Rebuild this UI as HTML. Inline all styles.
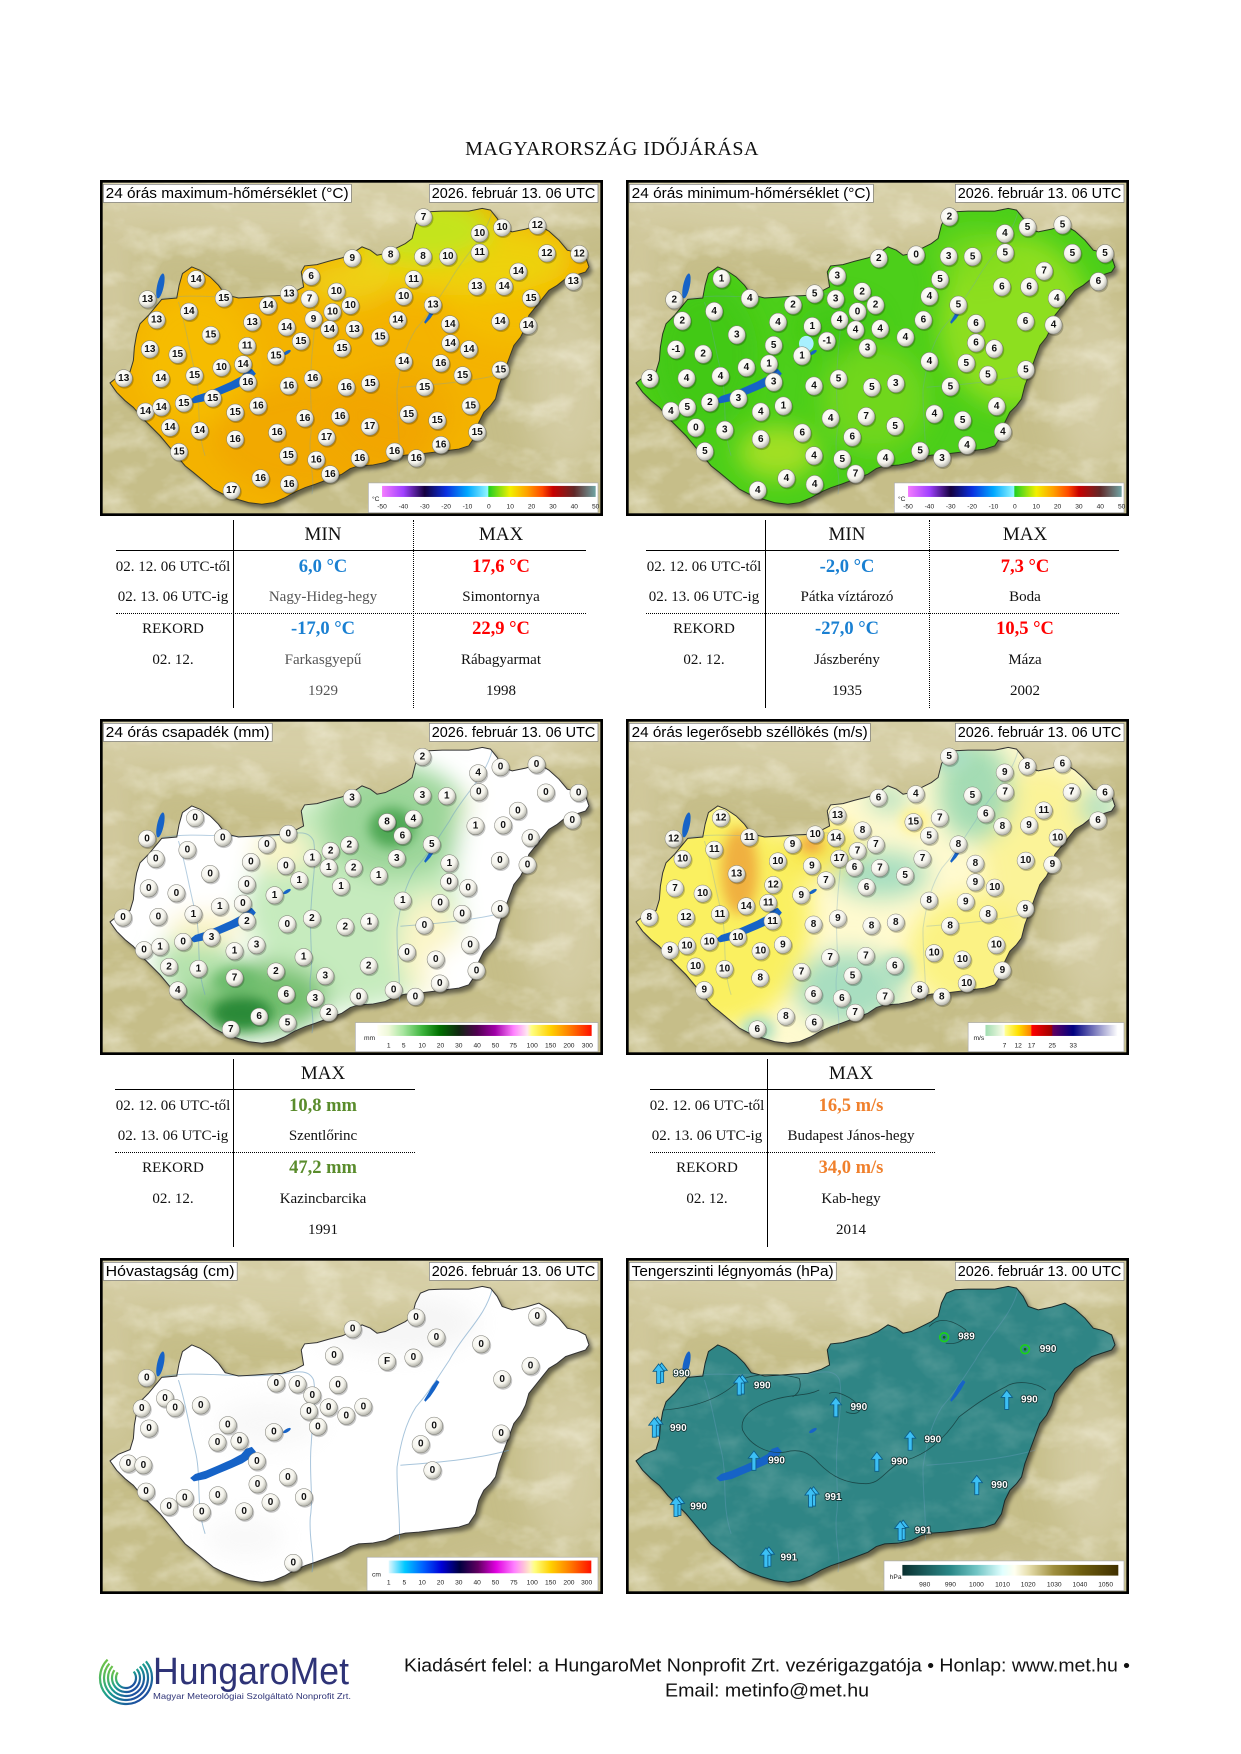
<!DOCTYPE html>
<html><head><meta charset="utf-8">
<style>
html,body{margin:0;padding:0;background:#fff}
#pg{position:relative;width:1241px;height:1754px;overflow:hidden;background:#fff}
.map{position:absolute}
svg text{font-family:"Liberation Sans",sans-serif}
.s text{font-size:30px;font-weight:bold;text-anchor:middle;dominant-baseline:central;fill:#111}
.p text{font-size:30px;font-weight:bold;fill:#fff;stroke:#123030;stroke-width:5px;paint-order:stroke;dominant-baseline:central}
.lb{font-size:44px;fill:#000}
.lg{font-size:20px;fill:#222}
.lgt text{font-size:20px;fill:#222;text-anchor:middle}
.c{position:absolute;width:260px;margin-left:-130px;text-align:center;font-family:"Liberation Serif",serif;line-height:1;white-space:nowrap;color:#111}
.h{font-size:19px}
.l{font-size:15px}
.g{color:#555}
.v{font-size:18.5px;font-weight:bold}
.bl{color:#1a80d2}.rd{color:#ff0000}.gr{color:#5a8c2c}.or{color:#f0802c}
.vl{position:absolute;width:0;border-left:1.5px solid #000}
.vd{position:absolute;width:0;border-left:1px dotted #000}
.hl{position:absolute;height:0;border-top:1.5px solid #000}
.hd{position:absolute;height:0;border-top:1px dotted #000}
</style></head><body><div id="pg">

<svg width="0" height="0" style="position:absolute;left:0;top:0">
<defs>
<radialGradient id="sg" cx=".4" cy=".35" r=".7"><stop offset="0" stop-color="#fff"/><stop offset=".6" stop-color="#f5f4ec"/><stop offset="1" stop-color="#a8a89f"/></radialGradient>
<g id="c"><circle cx="3" cy="4" r="27" fill="#000" opacity=".22"/><circle r="26" fill="url(#sg)" stroke="#7d7d76" stroke-width="1.5"/></g>
<path id="ar" d="M0,-30 L17,-8 L6,-8 L6,28 L-6,28 L-6,-8 L-17,-8Z" fill="#3cc0f5" stroke="#0b5d8a" stroke-width="2.5"/>
<g id="ar2"><use href="#ar" x="9" y="-3"/><use href="#ar"/></g>
<path id="hu" d="M45,632 L70,612 L105,598 L115,565 L118,525 L125,485 L135,455 L160,430 L185,400 L200,382 L245,378 L252,340 L262,305 L290,285 L315,295 L345,315 L370,340 L390,368 L430,378 L480,375 L520,372 L560,370 L600,358 L625,345 L618,300 L628,282 L665,278 L700,268 L740,258 L770,245 L800,225 L825,235 L845,250 L870,245 L900,230 L930,215 L950,200 L960,160 L975,130 L1000,120 L1040,118 L1080,118 L1120,118 L1160,110 L1185,115 L1205,140 L1220,170 L1250,180 L1290,172 L1330,160 L1360,178 L1390,205 L1415,235 L1445,242 L1470,255 L1480,285 L1470,300 L1440,310 L1410,320 L1385,340 L1360,355 L1340,380 L1320,405 L1300,430 L1290,465 L1275,495 L1255,520 L1240,560 L1225,600 L1210,640 L1200,680 L1185,700 L1165,720 L1150,750 L1140,790 L1120,820 L1090,830 L1050,835 L1010,840 L970,845 L930,848 L900,855 L870,870 L830,878 L790,880 L765,888 L740,905 L700,920 L660,935 L630,945 L600,958 L570,975 L535,990 L500,995 L460,990 L420,978 L385,965 L355,950 L325,925 L295,900 L270,880 L245,850 L220,820 L195,790 L165,760 L140,735 L115,705 L90,685 L65,660 Z"/>
<clipPath id="huc"><use href="#hu"/></clipPath>
<filter id="bl" x="-50%" y="-50%" width="200%" height="200%"><feGaussianBlur stdDeviation="35"/></filter>
<filter id="bls" x="-50%" y="-50%" width="200%" height="200%"><feGaussianBlur stdDeviation="18"/></filter>
<filter id="bl2" x="-50%" y="-50%" width="200%" height="200%"><feGaussianBlur stdDeviation="50"/></filter>
<filter id="sb" x="-10%" y="-10%" width="120%" height="120%"><feGaussianBlur stdDeviation="6"/></filter>
<filter id="tex" filterUnits="userSpaceOnUse" x="0" y="0" width="1600" height="1100"><feTurbulence type="fractalNoise" baseFrequency=".008 .012" numOctaves="4" seed="5"/><feColorMatrix type="matrix" values="0 0 0 0 1  0 0 0 0 .98  0 0 0 0 .88  1.6 0 0 0 -.7"/></filter>
<use id="hush" href="#hu" transform="translate(10 12)" fill="#000" opacity=".5" filter="url(#sb)"/>
<g id="terr" filter="url(#bl2)">
<ellipse cx="700" cy="90" rx="750" ry="130" fill="#ddd6b2" opacity=".7"/>
<ellipse cx="1420" cy="640" rx="130" ry="260" fill="#dad3ae" opacity=".7"/>
<ellipse cx="1380" cy="60" rx="200" ry="90" fill="#ddd6b2" opacity=".6"/>
<ellipse cx="50" cy="380" rx="80" ry="260" fill="#d8d1ab" opacity=".6"/>
<ellipse cx="1300" cy="980" rx="250" ry="60" fill="#d4cda6" opacity=".5"/>
</g>
<g id="lakes" fill="#1663c7">
<ellipse cx="196" cy="342" rx="10" ry="38" transform="rotate(12 196 342)"/>
<path d="M285,683 L296,693 L332,686 L372,669 L410,653 L442,639 L468,622 L482,604 L470,590 L452,596 L438,612 L408,628 L370,645 L332,661 L300,671Z"/>
<ellipse cx="575" cy="541" rx="13" ry="5" transform="rotate(-30 575 541)"/>
<path d="M990,455 L1004,440 L1018,420 L1032,396 L1024,390 L1010,408 L998,430 L986,450Z"/>
</g>
<g id="riv" fill="none" stroke="#6f9fc4" stroke-width="3">
<path d="M200,380 C300,360 450,388 560,372 C612,362 642,360 655,390 C665,450 650,520 648,580 C640,660 655,740 645,800 C640,870 660,920 650,965"/>
<path d="M1190,118 C1170,200 1105,250 1062,330 C1025,385 1002,425 962,470 C930,520 915,580 905,650 C903,720 915,800 912,870"/>
<path d="M1240,600 C1150,625 1050,635 915,645"/>
<path d="M250,390 C270,450 280,520 300,600 C320,680 300,760 330,850"/>
</g>
<linearGradient id="gT"><stop offset="0" stop-color="#f47cff"/><stop offset=".1" stop-color="#a040ff"/><stop offset=".2" stop-color="#140040"/><stop offset=".3" stop-color="#0a30e0"/><stop offset=".4" stop-color="#00a8ff"/><stop offset=".495" stop-color="#90f6ff"/><stop offset=".5" stop-color="#22d022"/><stop offset=".6" stop-color="#f2f000"/><stop offset=".68" stop-color="#ffa000"/><stop offset=".75" stop-color="#ff4a00"/><stop offset=".8" stop-color="#c80000"/><stop offset=".9" stop-color="#602828"/><stop offset="1" stop-color="#70a4a4"/></linearGradient>
<linearGradient id="gP"><stop offset="0" stop-color="#fffff2"/><stop offset=".053" stop-color="#eef8d8"/><stop offset=".12" stop-color="#a8e6a0"/><stop offset=".21" stop-color="#3cb43c"/><stop offset=".29" stop-color="#007000"/><stop offset=".38" stop-color="#102810"/><stop offset=".465" stop-color="#500050"/><stop offset=".55" stop-color="#a000a8"/><stop offset=".635" stop-color="#ff80ff"/><stop offset=".7" stop-color="#ffe8f0"/><stop offset=".72" stop-color="#ffff80"/><stop offset=".81" stop-color="#ffd000"/><stop offset=".895" stop-color="#ff8000"/><stop offset="1" stop-color="#ff1000"/></linearGradient>
<linearGradient id="gS"><stop offset="0" stop-color="#e0f8ff"/><stop offset=".08" stop-color="#00c8ff"/><stop offset=".17" stop-color="#0060ff"/><stop offset=".26" stop-color="#0000d8"/><stop offset=".35" stop-color="#000040"/><stop offset=".44" stop-color="#600060"/><stop offset=".53" stop-color="#e000e0"/><stop offset=".62" stop-color="#ff80ff"/><stop offset=".7" stop-color="#fff0c0"/><stop offset=".72" stop-color="#ffff80"/><stop offset=".8" stop-color="#ffd000"/><stop offset=".89" stop-color="#ff8000"/><stop offset="1" stop-color="#ff1000"/></linearGradient>
<linearGradient id="gW"><stop offset="0" stop-color="#a0dcb0"/><stop offset=".14" stop-color="#fbfde8"/><stop offset=".15" stop-color="#ffff90"/><stop offset=".247" stop-color="#ffe000"/><stop offset=".345" stop-color="#ff8000"/><stop offset=".35" stop-color="#ff0000"/><stop offset=".5" stop-color="#a00000"/><stop offset=".51" stop-color="#600060"/><stop offset=".664" stop-color="#000080"/><stop offset="1" stop-color="#ffffff"/></linearGradient>
<linearGradient id="gPr"><stop offset="0" stop-color="#0a3030"/><stop offset=".104" stop-color="#1a5a5a"/><stop offset=".223" stop-color="#2a8888"/><stop offset=".343" stop-color="#70c4c4"/><stop offset=".463" stop-color="#e0ffff"/><stop offset=".52" stop-color="#fffff0"/><stop offset=".582" stop-color="#e8e0b0"/><stop offset=".7" stop-color="#a09040"/><stop offset=".82" stop-color="#706010"/><stop offset="1" stop-color="#403000"/></linearGradient>
<g id="legT">
<rect x="819" y="931" width="688" height="89" fill="#fff" stroke="#aaa" stroke-width="2"/>
<rect x="860" y="940" width="640" height="33" fill="url(#gT)"/>
<text x="830" y="985" class="lg">°C</text>
<g class="lgt"><text x="860" y="1008">-50</text><text x="924" y="1008">-40</text><text x="988" y="1008">-30</text><text x="1052" y="1008">-20</text><text x="1116" y="1008">-10</text><text x="1180" y="1008">0</text><text x="1244" y="1008">10</text><text x="1308" y="1008">20</text><text x="1372" y="1008">30</text><text x="1436" y="1008">40</text><text x="1500" y="1008">50</text></g>
</g>
</defs>
</svg>

<div style="position:absolute;left:0;width:1224px;top:139px;text-align:center;font:20px/1 'Liberation Serif',serif;letter-spacing:.5px;color:#111">MAGYARORSZÁG IDŐJÁRÁSA</div>

<!-- MAP 1 -->
<svg class="map" style="left:100px;top:180px" width="503" height="336" viewBox="15 25 1507 1005" preserveAspectRatio="none">
<rect x="15" y="25" width="1507" height="1005" fill="#c6be89"/>
<use href="#terr"/>
<rect x="15" y="25" width="1507" height="1005" filter="url(#tex)" opacity=".6"/>
<use href="#hush"/>
<use href="#hu" fill="#f4b300"/>
<g clip-path="url(#huc)"><g filter="url(#bl)">
<ellipse cx="300" cy="560" rx="180" ry="200" fill="#f7c200" opacity=".6"/>
<ellipse cx="680" cy="800" rx="330" ry="170" fill="#f0a200" opacity=".6"/>
<ellipse cx="900" cy="720" rx="180" ry="140" fill="#f0a400" opacity=".5"/>
<ellipse cx="1250" cy="400" rx="200" ry="120" fill="#f5c400" opacity=".6"/>
<ellipse cx="1100" cy="260" rx="330" ry="110" fill="#ecd810" opacity=".8"/>
<ellipse cx="760" cy="330" rx="130" ry="70" fill="#eed41a" opacity=".8"/>
<ellipse cx="990" cy="170" rx="200" ry="100" fill="#c4e41c"/>
</g></g>
<use href="#riv" opacity=".3"/>
<use href="#hu" fill="none" stroke="#3a3a2a" stroke-width="3"/>
<use href="#lakes"/>
<svg x="15" y="25" width="1507" height="1005" viewBox="250 240 1272 1008" preserveAspectRatio="none" class="s">
<g transform="translate(1068 352)scale(.843 1)"><use href="#c"/><text>7</text></g>
<g transform="translate(1210 400)scale(.843 1)"><use href="#c"/><text>10</text></g>
<g transform="translate(1267 383)scale(.843 1)"><use href="#c"/><text>10</text></g>
<g transform="translate(1356 377)scale(.843 1)"><use href="#c"/><text>12</text></g>
<g transform="translate(888 475)scale(.843 1)"><use href="#c"/><text>9</text></g>
<g transform="translate(985 465)scale(.843 1)"><use href="#c"/><text>8</text></g>
<g transform="translate(1067 470)scale(.843 1)"><use href="#c"/><text>8</text></g>
<g transform="translate(1130 470)scale(.843 1)"><use href="#c"/><text>10</text></g>
<g transform="translate(1210 458)scale(.843 1)"><use href="#c"/><text>11</text></g>
<g transform="translate(1380 460)scale(.843 1)"><use href="#c"/><text>12</text></g>
<g transform="translate(1462 462)scale(.843 1)"><use href="#c"/><text>12</text></g>
<g transform="translate(1308 515)scale(.843 1)"><use href="#c"/><text>14</text></g>
<g transform="translate(1447 545)scale(.843 1)"><use href="#c"/><text>13</text></g>
<g transform="translate(493 538)scale(.843 1)"><use href="#c"/><text>14</text></g>
<g transform="translate(784 530)scale(.843 1)"><use href="#c"/><text>6</text></g>
<g transform="translate(1043 538)scale(.843 1)"><use href="#c"/><text>11</text></g>
<g transform="translate(1203 560)scale(.843 1)"><use href="#c"/><text>13</text></g>
<g transform="translate(1272 560)scale(.843 1)"><use href="#c"/><text>14</text></g>
<g transform="translate(370 598)scale(.843 1)"><use href="#c"/><text>13</text></g>
<g transform="translate(563 595)scale(.843 1)"><use href="#c"/><text>15</text></g>
<g transform="translate(728 582)scale(.843 1)"><use href="#c"/><text>13</text></g>
<g transform="translate(780 597)scale(.843 1)"><use href="#c"/><text>7</text></g>
<g transform="translate(848 575)scale(.843 1)"><use href="#c"/><text>10</text></g>
<g transform="translate(1018 590)scale(.843 1)"><use href="#c"/><text>10</text></g>
<g transform="translate(1092 615)scale(.843 1)"><use href="#c"/><text>13</text></g>
<g transform="translate(1340 595)scale(.843 1)"><use href="#c"/><text>15</text></g>
<g transform="translate(475 635)scale(.843 1)"><use href="#c"/><text>14</text></g>
<g transform="translate(675 617)scale(.843 1)"><use href="#c"/><text>14</text></g>
<g transform="translate(838 636)scale(.843 1)"><use href="#c"/><text>10</text></g>
<g transform="translate(883 617)scale(.843 1)"><use href="#c"/><text>10</text></g>
<g transform="translate(393 660)scale(.843 1)"><use href="#c"/><text>13</text></g>
<g transform="translate(635 667)scale(.843 1)"><use href="#c"/><text>13</text></g>
<g transform="translate(722 682)scale(.843 1)"><use href="#c"/><text>14</text></g>
<g transform="translate(790 658)scale(.843 1)"><use href="#c"/><text>9</text></g>
<g transform="translate(830 688)scale(.843 1)"><use href="#c"/><text>14</text></g>
<g transform="translate(893 688)scale(.843 1)"><use href="#c"/><text>13</text></g>
<g transform="translate(1003 660)scale(.843 1)"><use href="#c"/><text>14</text></g>
<g transform="translate(1135 673)scale(.843 1)"><use href="#c"/><text>14</text></g>
<g transform="translate(1262 665)scale(.843 1)"><use href="#c"/><text>14</text></g>
<g transform="translate(1333 677)scale(.843 1)"><use href="#c"/><text>14</text></g>
<g transform="translate(530 705)scale(.843 1)"><use href="#c"/><text>15</text></g>
<g transform="translate(758 724)scale(.843 1)"><use href="#c"/><text>15</text></g>
<g transform="translate(958 711)scale(.843 1)"><use href="#c"/><text>15</text></g>
<g transform="translate(376 748)scale(.843 1)"><use href="#c"/><text>13</text></g>
<g transform="translate(446 764)scale(.843 1)"><use href="#c"/><text>15</text></g>
<g transform="translate(622 738)scale(.843 1)"><use href="#c"/><text>11</text></g>
<g transform="translate(695 768)scale(.843 1)"><use href="#c"/><text>15</text></g>
<g transform="translate(862 745)scale(.843 1)"><use href="#c"/><text>15</text></g>
<g transform="translate(1136 730)scale(.843 1)"><use href="#c"/><text>14</text></g>
<g transform="translate(1183 748)scale(.843 1)"><use href="#c"/><text>14</text></g>
<g transform="translate(310 835)scale(.843 1)"><use href="#c"/><text>13</text></g>
<g transform="translate(404 836)scale(.843 1)"><use href="#c"/><text>14</text></g>
<g transform="translate(489 827)scale(.843 1)"><use href="#c"/><text>15</text></g>
<g transform="translate(557 803)scale(.843 1)"><use href="#c"/><text>10</text></g>
<g transform="translate(612 793)scale(.843 1)"><use href="#c"/><text>14</text></g>
<g transform="translate(624 847)scale(.843 1)"><use href="#c"/><text>16</text></g>
<g transform="translate(727 858)scale(.843 1)"><use href="#c"/><text>16</text></g>
<g transform="translate(788 836)scale(.843 1)"><use href="#c"/><text>16</text></g>
<g transform="translate(873 862)scale(.843 1)"><use href="#c"/><text>16</text></g>
<g transform="translate(933 851)scale(.843 1)"><use href="#c"/><text>15</text></g>
<g transform="translate(1018 785)scale(.843 1)"><use href="#c"/><text>14</text></g>
<g transform="translate(1112 790)scale(.843 1)"><use href="#c"/><text>16</text></g>
<g transform="translate(1167 826)scale(.843 1)"><use href="#c"/><text>15</text></g>
<g transform="translate(1263 810)scale(.843 1)"><use href="#c"/><text>15</text></g>
<g transform="translate(1071 862)scale(.843 1)"><use href="#c"/><text>15</text></g>
<g transform="translate(365 935)scale(.843 1)"><use href="#c"/><text>14</text></g>
<g transform="translate(405 922)scale(.843 1)"><use href="#c"/><text>14</text></g>
<g transform="translate(462 910)scale(.843 1)"><use href="#c"/><text>15</text></g>
<g transform="translate(535 895)scale(.843 1)"><use href="#c"/><text>15</text></g>
<g transform="translate(592 938)scale(.843 1)"><use href="#c"/><text>15</text></g>
<g transform="translate(650 918)scale(.843 1)"><use href="#c"/><text>16</text></g>
<g transform="translate(768 955)scale(.843 1)"><use href="#c"/><text>16</text></g>
<g transform="translate(857 950)scale(.843 1)"><use href="#c"/><text>16</text></g>
<g transform="translate(932 980)scale(.843 1)"><use href="#c"/><text>17</text></g>
<g transform="translate(1030 943)scale(.843 1)"><use href="#c"/><text>15</text></g>
<g transform="translate(1103 962)scale(.843 1)"><use href="#c"/><text>15</text></g>
<g transform="translate(1187 918)scale(.843 1)"><use href="#c"/><text>15</text></g>
<g transform="translate(427 983)scale(.843 1)"><use href="#c"/><text>14</text></g>
<g transform="translate(502 992)scale(.843 1)"><use href="#c"/><text>14</text></g>
<g transform="translate(592 1018)scale(.843 1)"><use href="#c"/><text>16</text></g>
<g transform="translate(698 998)scale(.843 1)"><use href="#c"/><text>16</text></g>
<g transform="translate(823 1012)scale(.843 1)"><use href="#c"/><text>17</text></g>
<g transform="translate(1204 997)scale(.843 1)"><use href="#c"/><text>15</text></g>
<g transform="translate(450 1056)scale(.843 1)"><use href="#c"/><text>15</text></g>
<g transform="translate(726 1067)scale(.843 1)"><use href="#c"/><text>15</text></g>
<g transform="translate(797 1080)scale(.843 1)"><use href="#c"/><text>16</text></g>
<g transform="translate(907 1075)scale(.843 1)"><use href="#c"/><text>16</text></g>
<g transform="translate(995 1055)scale(.843 1)"><use href="#c"/><text>16</text></g>
<g transform="translate(1050 1075)scale(.843 1)"><use href="#c"/><text>16</text></g>
<g transform="translate(1112 1035)scale(.843 1)"><use href="#c"/><text>16</text></g>
<g transform="translate(656 1135)scale(.843 1)"><use href="#c"/><text>16</text></g>
<g transform="translate(728 1153)scale(.843 1)"><use href="#c"/><text>16</text></g>
<g transform="translate(832 1123)scale(.843 1)"><use href="#c"/><text>16</text></g>
<g transform="translate(583 1172)scale(.843 1)"><use href="#c"/><text>17</text></g>
</svg>
<rect x="25" y="38" width="743" height="54" fill="#fff" stroke="#777" stroke-width="2"/>
<text class="lb" x="32" y="79" textLength="728" lengthAdjust="spacingAndGlyphs">24 órás maximum-hőmérséklet (°C)</text>
<rect x="1002" y="38" width="505" height="54" fill="#fff" stroke="#777" stroke-width="2"/>
<text class="lb" x="1009" y="79" textLength="490" lengthAdjust="spacingAndGlyphs">2026. február 13. 06 UTC</text>
<use href="#legT"/>
<rect x="15" y="25" width="1507" height="1005" fill="none" stroke="#000" stroke-width="16"/>
</svg>

<!-- MAP 2 -->
<svg class="map" style="left:626px;top:180px" width="503" height="336" viewBox="15 25 1507 1005" preserveAspectRatio="none">
<rect x="15" y="25" width="1507" height="1005" fill="#c6be89"/>
<use href="#terr"/>
<rect x="15" y="25" width="1507" height="1005" filter="url(#tex)" opacity=".6"/>
<use href="#hush"/>
<use href="#hu" fill="#4ccf1a"/>
<g clip-path="url(#huc)"><g filter="url(#bl)">
<ellipse cx="250" cy="550" rx="160" ry="220" fill="#3cc414" opacity=".6"/>
<ellipse cx="650" cy="470" rx="120" ry="80" fill="#3ac410" opacity=".6"/>
<ellipse cx="1180" cy="450" rx="230" ry="260" fill="#9ee21e" opacity=".8"/>
<ellipse cx="1060" cy="250" rx="120" ry="80" fill="#80dc1e" opacity=".6"/>
<ellipse cx="760" cy="680" rx="160" ry="160" fill="#88dc20" opacity=".6"/>
<ellipse cx="470" cy="840" rx="120" ry="80" fill="#b8e428" opacity=".8"/>
</g></g>
<use href="#riv" opacity=".3"/>
<use href="#hu" fill="none" stroke="#2a3a20" stroke-width="3"/>
<use href="#lakes"/>
<svg x="15" y="25" width="1507" height="1005" viewBox="18 28 1512 959" preserveAspectRatio="none" class="s">
<circle cx="560" cy="495" r="22" fill="#a8f0ff"/>
<g transform="translate(990 133)"><use href="#c"/><text>2</text></g>
<g transform="translate(1157 181)"><use href="#c"/><text>4</text></g>
<g transform="translate(1225 163)"><use href="#c"/><text>5</text></g>
<g transform="translate(1330 156)"><use href="#c"/><text>5</text></g>
<g transform="translate(778 252)"><use href="#c"/><text>2</text></g>
<g transform="translate(890 242)"><use href="#c"/><text>0</text></g>
<g transform="translate(988 246)"><use href="#c"/><text>3</text></g>
<g transform="translate(1060 247)"><use href="#c"/><text>5</text></g>
<g transform="translate(1158 236)"><use href="#c"/><text>5</text></g>
<g transform="translate(1360 237)"><use href="#c"/><text>5</text></g>
<g transform="translate(1458 238)"><use href="#c"/><text>5</text></g>
<g transform="translate(305 310)"><use href="#c"/><text>1</text></g>
<g transform="translate(653 302)"><use href="#c"/><text>3</text></g>
<g transform="translate(962 312)"><use href="#c"/><text>5</text></g>
<g transform="translate(1275 288)"><use href="#c"/><text>7</text></g>
<g transform="translate(1438 318)"><use href="#c"/><text>6</text></g>
<g transform="translate(163 370)"><use href="#c"/><text>2</text></g>
<g transform="translate(390 366)"><use href="#c"/><text>4</text></g>
<g transform="translate(520 385)"><use href="#c"/><text>2</text></g>
<g transform="translate(585 353)"><use href="#c"/><text>5</text></g>
<g transform="translate(648 368)"><use href="#c"/><text>3</text></g>
<g transform="translate(728 347)"><use href="#c"/><text>2</text></g>
<g transform="translate(768 385)"><use href="#c"/><text>2</text></g>
<g transform="translate(930 360)"><use href="#c"/><text>4</text></g>
<g transform="translate(1148 333)"><use href="#c"/><text>6</text></g>
<g transform="translate(1230 333)"><use href="#c"/><text>6</text></g>
<g transform="translate(1017 385)"><use href="#c"/><text>5</text></g>
<g transform="translate(1313 366)"><use href="#c"/><text>4</text></g>
<g transform="translate(283 403)"><use href="#c"/><text>4</text></g>
<g transform="translate(714 404)"><use href="#c"/><text>0</text></g>
<g transform="translate(187 430)"><use href="#c"/><text>2</text></g>
<g transform="translate(475 434)"><use href="#c"/><text>4</text></g>
<g transform="translate(660 428)"><use href="#c"/><text>4</text></g>
<g transform="translate(578 446)"><use href="#c"/><text>1</text></g>
<g transform="translate(708 456)"><use href="#c"/><text>4</text></g>
<g transform="translate(782 453)"><use href="#c"/><text>4</text></g>
<g transform="translate(912 428)"><use href="#c"/><text>6</text></g>
<g transform="translate(1070 438)"><use href="#c"/><text>6</text></g>
<g transform="translate(1219 432)"><use href="#c"/><text>6</text></g>
<g transform="translate(1303 442)"><use href="#c"/><text>4</text></g>
<g transform="translate(351 470)"><use href="#c"/><text>3</text></g>
<g transform="translate(462 500)"><use href="#c"/><text>5</text></g>
<g transform="translate(622 488)"><use href="#c"/><text>-1</text></g>
<g transform="translate(858 477)"><use href="#c"/><text>4</text></g>
<g transform="translate(1070 493)"><use href="#c"/><text>6</text></g>
<g transform="translate(1125 510)"><use href="#c"/><text>6</text></g>
<g transform="translate(168 512)"><use href="#c"/><text>-1</text></g>
<g transform="translate(250 525)"><use href="#c"/><text>2</text></g>
<g transform="translate(547 530)"><use href="#c"/><text>1</text></g>
<g transform="translate(744 508)"><use href="#c"/><text>3</text></g>
<g transform="translate(380 563)"><use href="#c"/><text>4</text></g>
<g transform="translate(448 553)"><use href="#c"/><text>1</text></g>
<g transform="translate(930 546)"><use href="#c"/><text>4</text></g>
<g transform="translate(1041 551)"><use href="#c"/><text>5</text></g>
<g transform="translate(1220 570)"><use href="#c"/><text>5</text></g>
<g transform="translate(1106 585)"><use href="#c"/><text>5</text></g>
<g transform="translate(90 595)"><use href="#c"/><text>3</text></g>
<g transform="translate(200 594)"><use href="#c"/><text>4</text></g>
<g transform="translate(302 588)"><use href="#c"/><text>4</text></g>
<g transform="translate(462 605)"><use href="#c"/><text>3</text></g>
<g transform="translate(583 616)"><use href="#c"/><text>4</text></g>
<g transform="translate(657 596)"><use href="#c"/><text>5</text></g>
<g transform="translate(757 620)"><use href="#c"/><text>5</text></g>
<g transform="translate(829 609)"><use href="#c"/><text>3</text></g>
<g transform="translate(993 618)"><use href="#c"/><text>5</text></g>
<g transform="translate(153 688)"><use href="#c"/><text>4</text></g>
<g transform="translate(202 677)"><use href="#c"/><text>5</text></g>
<g transform="translate(270 663)"><use href="#c"/><text>2</text></g>
<g transform="translate(356 652)"><use href="#c"/><text>3</text></g>
<g transform="translate(423 690)"><use href="#c"/><text>4</text></g>
<g transform="translate(491 673)"><use href="#c"/><text>1</text></g>
<g transform="translate(633 708)"><use href="#c"/><text>4</text></g>
<g transform="translate(740 703)"><use href="#c"/><text>7</text></g>
<g transform="translate(827 731)"><use href="#c"/><text>5</text></g>
<g transform="translate(945 696)"><use href="#c"/><text>4</text></g>
<g transform="translate(1030 714)"><use href="#c"/><text>5</text></g>
<g transform="translate(1132 674)"><use href="#c"/><text>4</text></g>
<g transform="translate(228 735)"><use href="#c"/><text>0</text></g>
<g transform="translate(315 742)"><use href="#c"/><text>3</text></g>
<g transform="translate(423 768)"><use href="#c"/><text>6</text></g>
<g transform="translate(548 750)"><use href="#c"/><text>6</text></g>
<g transform="translate(698 762)"><use href="#c"/><text>6</text></g>
<g transform="translate(1151 747)"><use href="#c"/><text>4</text></g>
<g transform="translate(255 803)"><use href="#c"/><text>5</text></g>
<g transform="translate(583 815)"><use href="#c"/><text>4</text></g>
<g transform="translate(668 825)"><use href="#c"/><text>5</text></g>
<g transform="translate(798 822)"><use href="#c"/><text>4</text></g>
<g transform="translate(902 802)"><use href="#c"/><text>5</text></g>
<g transform="translate(968 822)"><use href="#c"/><text>3</text></g>
<g transform="translate(1043 785)"><use href="#c"/><text>4</text></g>
<g transform="translate(500 880)"><use href="#c"/><text>4</text></g>
<g transform="translate(585 897)"><use href="#c"/><text>4</text></g>
<g transform="translate(708 867)"><use href="#c"/><text>7</text></g>
<g transform="translate(414 914)"><use href="#c"/><text>4</text></g>
</svg>
<rect x="25" y="38" width="731" height="54" fill="#fff" stroke="#777" stroke-width="2"/>
<text class="lb" x="32" y="79" textLength="716" lengthAdjust="spacingAndGlyphs">24 órás minimum-hőmérséklet (°C)</text>
<rect x="1002" y="38" width="505" height="54" fill="#fff" stroke="#777" stroke-width="2"/>
<text class="lb" x="1009" y="79" textLength="490" lengthAdjust="spacingAndGlyphs">2026. február 13. 06 UTC</text>
<use href="#legT"/>
<rect x="15" y="25" width="1507" height="1005" fill="none" stroke="#000" stroke-width="16"/>
</svg>

<!-- TABLE 1 -->
<div class="vl" style="left:233px;top:520px;height:188px"></div>
<div class="vd" style="left:413px;top:520px;height:188px"></div>
<div class="hl" style="left:116px;top:550px;width:470px"></div>
<div class="hd" style="left:116px;top:613px;width:470px"></div>
<div class="c h" style="left:323px;top:525px">MIN</div>
<div class="c h" style="left:501px;top:525px">MAX</div>
<div class="c l" style="left:173px;top:560px">02. 12. 06 UTC-től</div>
<div class="c v bl" style="left:323px;top:558px">6,0 °C</div>
<div class="c v rd" style="left:501px;top:558px">17,6 °C</div>
<div class="c l" style="left:173px;top:590px">02. 13. 06 UTC-ig</div>
<div class="c l g" style="left:323px;top:590px">Nagy-Hideg-hegy</div>
<div class="c l" style="left:501px;top:590px">Simontornya</div>
<div class="c l" style="left:173px;top:622px">REKORD</div>
<div class="c v bl" style="left:323px;top:620px">-17,0 °C</div>
<div class="c v rd" style="left:501px;top:620px">22,9 °C</div>
<div class="c l" style="left:173px;top:653px">02. 12.</div>
<div class="c l g" style="left:323px;top:653px">Farkasgyepű</div>
<div class="c l" style="left:501px;top:653px">Rábagyarmat</div>
<div class="c l g" style="left:323px;top:684px">1929</div>
<div class="c l" style="left:501px;top:684px">1998</div>

<!-- TABLE 2 -->
<div class="vl" style="left:765px;top:520px;height:188px"></div>
<div class="vd" style="left:929px;top:520px;height:188px"></div>
<div class="hl" style="left:646px;top:550px;width:473px"></div>
<div class="hd" style="left:646px;top:613px;width:473px"></div>
<div class="c h" style="left:847px;top:525px">MIN</div>
<div class="c h" style="left:1025px;top:525px">MAX</div>
<div class="c l" style="left:704px;top:560px">02. 12. 06 UTC-től</div>
<div class="c v bl" style="left:847px;top:558px">-2,0 °C</div>
<div class="c v rd" style="left:1025px;top:558px">7,3 °C</div>
<div class="c l" style="left:704px;top:590px">02. 13. 06 UTC-ig</div>
<div class="c l" style="left:847px;top:590px">Pátka víztározó</div>
<div class="c l" style="left:1025px;top:590px">Boda</div>
<div class="c l" style="left:704px;top:622px">REKORD</div>
<div class="c v bl" style="left:847px;top:620px">-27,0 °C</div>
<div class="c v rd" style="left:1025px;top:620px">10,5 °C</div>
<div class="c l" style="left:704px;top:653px">02. 12.</div>
<div class="c l" style="left:847px;top:653px">Jászberény</div>
<div class="c l" style="left:1025px;top:653px">Máza</div>
<div class="c l" style="left:847px;top:684px">1935</div>
<div class="c l" style="left:1025px;top:684px">2002</div>

<!-- MAP 3 -->
<svg class="map" style="left:100px;top:719px" width="503" height="336" viewBox="15 25 1507 1005" preserveAspectRatio="none">
<rect x="15" y="25" width="1507" height="1005" fill="#c6be89"/>
<use href="#terr"/>
<rect x="15" y="25" width="1507" height="1005" filter="url(#tex)" opacity=".6"/>
<use href="#hush"/>
<use href="#hu" fill="#ffffff"/>
<g clip-path="url(#huc)"><g filter="url(#bl)">
<ellipse cx="780" cy="560" rx="330" ry="330" fill="#c6ebbe"/>
<ellipse cx="900" cy="330" rx="220" ry="170" fill="#9cd69a"/>
<ellipse cx="470" cy="860" rx="230" ry="110" fill="#74c070"/>
<ellipse cx="300" cy="760" rx="120" ry="80" fill="#b4e2ac"/>
<ellipse cx="560" cy="420" rx="90" ry="60" fill="#fbf5c8"/>
<ellipse cx="330" cy="650" rx="110" ry="50" fill="#faf3c4"/>
<ellipse cx="1000" cy="700" rx="90" ry="150" fill="#fbf5c8"/>
<ellipse cx="1150" cy="360" rx="60" ry="120" fill="#fbf5c8"/>
<ellipse cx="290" cy="470" rx="190" ry="140" fill="#fff"/>
<ellipse cx="1260" cy="480" rx="180" ry="300" fill="#fff"/>
<ellipse cx="1100" cy="780" rx="100" ry="80" fill="#fff"/>
</g>
<g filter="url(#bls)">
<ellipse cx="890" cy="350" rx="70" ry="60" fill="#4fa854"/>
<ellipse cx="440" cy="905" rx="90" ry="50" fill="#2a8a38"/>
<ellipse cx="420" cy="810" rx="70" ry="40" fill="#6cbc6c"/>
</g></g>
<use href="#riv" opacity=".5"/>
<use href="#hu" fill="none" stroke="#333" stroke-width="3"/>
<use href="#lakes"/>
<svg x="15" y="25" width="1507" height="1005" viewBox="15 20 1507 1010" preserveAspectRatio="none" class="s">
<g transform="translate(981 134)"><use href="#c"/><text>2</text></g>
<g transform="translate(1148 183)"><use href="#c"/><text>4</text></g>
<g transform="translate(1215 165)"><use href="#c"/><text>0</text></g>
<g transform="translate(1323 157)"><use href="#c"/><text>0</text></g>
<g transform="translate(770 257)"><use href="#c"/><text>3</text></g>
<g transform="translate(981 250)"><use href="#c"/><text>3</text></g>
<g transform="translate(1054 252)"><use href="#c"/><text>1</text></g>
<g transform="translate(1150 240)"><use href="#c"/><text>0</text></g>
<g transform="translate(1351 241)"><use href="#c"/><text>0</text></g>
<g transform="translate(1449 242)"><use href="#c"/><text>0</text></g>
<g transform="translate(300 318)"><use href="#c"/><text>0</text></g>
<g transform="translate(875 330)"><use href="#c"/><text>8</text></g>
<g transform="translate(954 320)"><use href="#c"/><text>4</text></g>
<g transform="translate(1267 296)"><use href="#c"/><text>0</text></g>
<g transform="translate(1430 325)"><use href="#c"/><text>0</text></g>
<g transform="translate(156 380)"><use href="#c"/><text>0</text></g>
<g transform="translate(383 377)"><use href="#c"/><text>0</text></g>
<g transform="translate(579 365)"><use href="#c"/><text>0</text></g>
<g transform="translate(921 371)"><use href="#c"/><text>6</text></g>
<g transform="translate(1140 342)"><use href="#c"/><text>1</text></g>
<g transform="translate(1223 340)"><use href="#c"/><text>0</text></g>
<g transform="translate(1305 378)"><use href="#c"/><text>0</text></g>
<g transform="translate(277 414)"><use href="#c"/><text>0</text></g>
<g transform="translate(515 398)"><use href="#c"/><text>0</text></g>
<g transform="translate(706 417)"><use href="#c"/><text>2</text></g>
<g transform="translate(762 399)"><use href="#c"/><text>2</text></g>
<g transform="translate(1009 397)"><use href="#c"/><text>5</text></g>
<g transform="translate(182 441)"><use href="#c"/><text>0</text></g>
<g transform="translate(467 450)"><use href="#c"/><text>0</text></g>
<g transform="translate(572 462)"><use href="#c"/><text>0</text></g>
<g transform="translate(651 438)"><use href="#c"/><text>1</text></g>
<g transform="translate(700 467)"><use href="#c"/><text>1</text></g>
<g transform="translate(775 468)"><use href="#c"/><text>2</text></g>
<g transform="translate(850 491)"><use href="#c"/><text>1</text></g>
<g transform="translate(904 439)"><use href="#c"/><text>3</text></g>
<g transform="translate(1062 454)"><use href="#c"/><text>1</text></g>
<g transform="translate(1213 446)"><use href="#c"/><text>0</text></g>
<g transform="translate(1296 459)"><use href="#c"/><text>0</text></g>
<g transform="translate(345 486)"><use href="#c"/><text>0</text></g>
<g transform="translate(161 529)"><use href="#c"/><text>0</text></g>
<g transform="translate(244 544)"><use href="#c"/><text>0</text></g>
<g transform="translate(455 518)"><use href="#c"/><text>0</text></g>
<g transform="translate(612 505)"><use href="#c"/><text>1</text></g>
<g transform="translate(538 550)"><use href="#c"/><text>1</text></g>
<g transform="translate(737 524)"><use href="#c"/><text>1</text></g>
<g transform="translate(1061 510)"><use href="#c"/><text>0</text></g>
<g transform="translate(1118 528)"><use href="#c"/><text>0</text></g>
<g transform="translate(84 617)"><use href="#c"/><text>0</text></g>
<g transform="translate(190 615)"><use href="#c"/><text>0</text></g>
<g transform="translate(295 607)"><use href="#c"/><text>1</text></g>
<g transform="translate(374 584)"><use href="#c"/><text>1</text></g>
<g transform="translate(443 575)"><use href="#c"/><text>0</text></g>
<g transform="translate(455 628)"><use href="#c"/><text>2</text></g>
<g transform="translate(576 637)"><use href="#c"/><text>0</text></g>
<g transform="translate(650 620)"><use href="#c"/><text>2</text></g>
<g transform="translate(750 645)"><use href="#c"/><text>2</text></g>
<g transform="translate(822 630)"><use href="#c"/><text>1</text></g>
<g transform="translate(922 566)"><use href="#c"/><text>1</text></g>
<g transform="translate(1034 573)"><use href="#c"/><text>0</text></g>
<g transform="translate(1100 606)"><use href="#c"/><text>0</text></g>
<g transform="translate(1214 592)"><use href="#c"/><text>0</text></g>
<g transform="translate(987 641)"><use href="#c"/><text>0</text></g>
<g transform="translate(147 715)"><use href="#c"/><text>0</text></g>
<g transform="translate(195 705)"><use href="#c"/><text>1</text></g>
<g transform="translate(264 690)"><use href="#c"/><text>0</text></g>
<g transform="translate(349 677)"><use href="#c"/><text>3</text></g>
<g transform="translate(418 718)"><use href="#c"/><text>1</text></g>
<g transform="translate(484 700)"><use href="#c"/><text>3</text></g>
<g transform="translate(625 736)"><use href="#c"/><text>1</text></g>
<g transform="translate(935 722)"><use href="#c"/><text>0</text></g>
<g transform="translate(1124 700)"><use href="#c"/><text>0</text></g>
<g transform="translate(222 765)"><use href="#c"/><text>2</text></g>
<g transform="translate(310 771)"><use href="#c"/><text>1</text></g>
<g transform="translate(418 798)"><use href="#c"/><text>7</text></g>
<g transform="translate(542 779)"><use href="#c"/><text>2</text></g>
<g transform="translate(690 793)"><use href="#c"/><text>3</text></g>
<g transform="translate(820 762)"><use href="#c"/><text>2</text></g>
<g transform="translate(1021 743)"><use href="#c"/><text>0</text></g>
<g transform="translate(1143 777)"><use href="#c"/><text>0</text></g>
<g transform="translate(248 836)"><use href="#c"/><text>4</text></g>
<g transform="translate(573 848)"><use href="#c"/><text>6</text></g>
<g transform="translate(660 860)"><use href="#c"/><text>3</text></g>
<g transform="translate(790 855)"><use href="#c"/><text>0</text></g>
<g transform="translate(895 835)"><use href="#c"/><text>0</text></g>
<g transform="translate(960 855)"><use href="#c"/><text>0</text></g>
<g transform="translate(1033 815)"><use href="#c"/><text>0</text></g>
<g transform="translate(492 915)"><use href="#c"/><text>6</text></g>
<g transform="translate(577 934)"><use href="#c"/><text>5</text></g>
<g transform="translate(700 903)"><use href="#c"/><text>2</text></g>
<g transform="translate(407 953)"><use href="#c"/><text>7</text></g>
</svg>
<rect x="25" y="38" width="506" height="54" fill="#fff" stroke="#777" stroke-width="2"/>
<text class="lb" x="32" y="79" textLength="491" lengthAdjust="spacingAndGlyphs">24 órás csapadék (mm)</text>
<rect x="1002" y="38" width="505" height="54" fill="#fff" stroke="#777" stroke-width="2"/>
<text class="lb" x="1009" y="79" textLength="490" lengthAdjust="spacingAndGlyphs">2026. február 13. 06 UTC</text>
<rect x="780" y="933" width="727" height="87" fill="#fff" stroke="#aaa" stroke-width="2"/>
<rect x="846" y="940" width="642" height="33" fill="url(#gP)"/>
<text x="806" y="985" class="lg">mm</text>
<g class="lgt"><text x="880" y="1008">1</text><text x="925" y="1008">5</text><text x="980" y="1008">10</text><text x="1035" y="1008">20</text><text x="1090" y="1008">30</text><text x="1145" y="1008">40</text><text x="1200" y="1008">50</text><text x="1253" y="1008">75</text><text x="1310" y="1008">100</text><text x="1365" y="1008">150</text><text x="1420" y="1008">200</text><text x="1475" y="1008">300</text></g>
<rect x="15" y="25" width="1507" height="1005" fill="none" stroke="#000" stroke-width="16"/>
</svg>

<!-- MAP 4 -->
<svg class="map" style="left:626px;top:719px" width="503" height="336" viewBox="15 25 1507 1005" preserveAspectRatio="none">
<rect x="15" y="25" width="1507" height="1005" fill="#c6be89"/>
<use href="#terr"/>
<rect x="15" y="25" width="1507" height="1005" filter="url(#tex)" opacity=".6"/>
<use href="#hush"/>
<use href="#hu" fill="#fffad0"/>
<g clip-path="url(#huc)"><g filter="url(#bl)">
<ellipse cx="290" cy="620" rx="280" ry="330" fill="#faf060"/>
<ellipse cx="600" cy="420" rx="120" ry="80" fill="#f8e850"/>
<ellipse cx="1050" cy="720" rx="190" ry="170" fill="#faf070" opacity=".8"/>
<ellipse cx="1260" cy="420" rx="180" ry="260" fill="#faf080" opacity=".7"/>
<ellipse cx="1060" cy="240" rx="110" ry="150" fill="#a4dcb4"/>
<ellipse cx="780" cy="490" rx="140" ry="70" fill="#a8dec0"/>
<ellipse cx="680" cy="830" rx="160" ry="110" fill="#a8dec0"/>
<ellipse cx="1430" cy="290" rx="60" ry="60" fill="#b4e0c0"/>
<ellipse cx="800" cy="265" rx="60" ry="40" fill="#b4e0c0"/>
</g>
<g filter="url(#bls)">
<ellipse cx="355" cy="480" rx="55" ry="130" fill="#f0b040"/>
<ellipse cx="570" cy="400" rx="35" ry="25" fill="#f0a040"/>
<ellipse cx="825" cy="770" rx="45" ry="45" fill="#a8dec0"/>
<ellipse cx="410" cy="955" rx="50" ry="40" fill="#a8dec0"/>
<ellipse cx="990" cy="140" rx="60" ry="40" fill="#a8dec0"/>
<ellipse cx="880" cy="330" rx="40" ry="35" fill="#fff080"/>
</g></g>
<use href="#riv" opacity=".3"/>
<use href="#hu" fill="none" stroke="#333" stroke-width="3"/>
<use href="#lakes"/>
<svg x="15" y="25" width="1507" height="1005" viewBox="20 20 1510 1010" preserveAspectRatio="none" class="s">
<g transform="translate(990 133)"><use href="#c"/><text>5</text></g>
<g transform="translate(1157 181)"><use href="#c"/><text>9</text></g>
<g transform="translate(1225 163)"><use href="#c"/><text>8</text></g>
<g transform="translate(1330 156)"><use href="#c"/><text>6</text></g>
<g transform="translate(778 257)"><use href="#c"/><text>6</text></g>
<g transform="translate(890 246)"><use href="#c"/><text>4</text></g>
<g transform="translate(1060 250)"><use href="#c"/><text>5</text></g>
<g transform="translate(1158 240)"><use href="#c"/><text>7</text></g>
<g transform="translate(1358 240)"><use href="#c"/><text>7</text></g>
<g transform="translate(1458 242)"><use href="#c"/><text>6</text></g>
<g transform="translate(305 318)"><use href="#c"/><text>12</text></g>
<g transform="translate(655 310)"><use href="#c"/><text>13</text></g>
<g transform="translate(883 330)"><use href="#c"/><text>15</text></g>
<g transform="translate(962 318)"><use href="#c"/><text>7</text></g>
<g transform="translate(1100 306)"><use href="#c"/><text>6</text></g>
<g transform="translate(1274 295)"><use href="#c"/><text>11</text></g>
<g transform="translate(1437 325)"><use href="#c"/><text>6</text></g>
<g transform="translate(163 380)"><use href="#c"/><text>12</text></g>
<g transform="translate(390 376)"><use href="#c"/><text>11</text></g>
<g transform="translate(588 367)"><use href="#c"/><text>10</text></g>
<g transform="translate(650 378)"><use href="#c"/><text>14</text></g>
<g transform="translate(730 355)"><use href="#c"/><text>8</text></g>
<g transform="translate(930 371)"><use href="#c"/><text>5</text></g>
<g transform="translate(1150 343)"><use href="#c"/><text>8</text></g>
<g transform="translate(1230 340)"><use href="#c"/><text>9</text></g>
<g transform="translate(1316 377)"><use href="#c"/><text>10</text></g>
<g transform="translate(285 413)"><use href="#c"/><text>11</text></g>
<g transform="translate(520 398)"><use href="#c"/><text>9</text></g>
<g transform="translate(770 398)"><use href="#c"/><text>7</text></g>
<g transform="translate(715 417)"><use href="#c"/><text>7</text></g>
<g transform="translate(1018 397)"><use href="#c"/><text>8</text></g>
<g transform="translate(190 441)"><use href="#c"/><text>10</text></g>
<g transform="translate(476 448)"><use href="#c"/><text>10</text></g>
<g transform="translate(660 440)"><use href="#c"/><text>17</text></g>
<g transform="translate(706 467)"><use href="#c"/><text>6</text></g>
<g transform="translate(782 468)"><use href="#c"/><text>7</text></g>
<g transform="translate(910 440)"><use href="#c"/><text>7</text></g>
<g transform="translate(1069 455)"><use href="#c"/><text>8</text></g>
<g transform="translate(1220 446)"><use href="#c"/><text>10</text></g>
<g transform="translate(1300 458)"><use href="#c"/><text>9</text></g>
<g transform="translate(352 486)"><use href="#c"/><text>13</text></g>
<g transform="translate(578 462)"><use href="#c"/><text>9</text></g>
<g transform="translate(858 491)"><use href="#c"/><text>5</text></g>
<g transform="translate(1069 511)"><use href="#c"/><text>9</text></g>
<g transform="translate(1127 527)"><use href="#c"/><text>10</text></g>
<g transform="translate(167 529)"><use href="#c"/><text>7</text></g>
<g transform="translate(250 545)"><use href="#c"/><text>10</text></g>
<g transform="translate(462 519)"><use href="#c"/><text>12</text></g>
<g transform="translate(620 505)"><use href="#c"/><text>7</text></g>
<g transform="translate(546 550)"><use href="#c"/><text>9</text></g>
<g transform="translate(742 526)"><use href="#c"/><text>6</text></g>
<g transform="translate(447 573)"><use href="#c"/><text>11</text></g>
<g transform="translate(381 583)"><use href="#c"/><text>14</text></g>
<g transform="translate(930 566)"><use href="#c"/><text>8</text></g>
<g transform="translate(1040 570)"><use href="#c"/><text>9</text></g>
<g transform="translate(1219 591)"><use href="#c"/><text>9</text></g>
<g transform="translate(90 617)"><use href="#c"/><text>8</text></g>
<g transform="translate(200 617)"><use href="#c"/><text>12</text></g>
<g transform="translate(302 607)"><use href="#c"/><text>11</text></g>
<g transform="translate(460 628)"><use href="#c"/><text>11</text></g>
<g transform="translate(583 638)"><use href="#c"/><text>8</text></g>
<g transform="translate(656 620)"><use href="#c"/><text>9</text></g>
<g transform="translate(757 642)"><use href="#c"/><text>8</text></g>
<g transform="translate(830 632)"><use href="#c"/><text>8</text></g>
<g transform="translate(1107 607)"><use href="#c"/><text>8</text></g>
<g transform="translate(993 642)"><use href="#c"/><text>8</text></g>
<g transform="translate(152 716)"><use href="#c"/><text>9</text></g>
<g transform="translate(203 702)"><use href="#c"/><text>10</text></g>
<g transform="translate(270 690)"><use href="#c"/><text>10</text></g>
<g transform="translate(356 677)"><use href="#c"/><text>10</text></g>
<g transform="translate(424 718)"><use href="#c"/><text>10</text></g>
<g transform="translate(491 699)"><use href="#c"/><text>9</text></g>
<g transform="translate(1132 700)"><use href="#c"/><text>10</text></g>
<g transform="translate(229 764)"><use href="#c"/><text>10</text></g>
<g transform="translate(316 772)"><use href="#c"/><text>10</text></g>
<g transform="translate(423 799)"><use href="#c"/><text>8</text></g>
<g transform="translate(547 780)"><use href="#c"/><text>7</text></g>
<g transform="translate(633 737)"><use href="#c"/><text>7</text></g>
<g transform="translate(740 732)"><use href="#c"/><text>7</text></g>
<g transform="translate(700 792)"><use href="#c"/><text>5</text></g>
<g transform="translate(827 762)"><use href="#c"/><text>6</text></g>
<g transform="translate(945 724)"><use href="#c"/><text>10</text></g>
<g transform="translate(1030 743)"><use href="#c"/><text>10</text></g>
<g transform="translate(1150 776)"><use href="#c"/><text>9</text></g>
<g transform="translate(255 835)"><use href="#c"/><text>9</text></g>
<g transform="translate(583 848)"><use href="#c"/><text>6</text></g>
<g transform="translate(668 860)"><use href="#c"/><text>6</text></g>
<g transform="translate(798 855)"><use href="#c"/><text>7</text></g>
<g transform="translate(902 835)"><use href="#c"/><text>8</text></g>
<g transform="translate(968 855)"><use href="#c"/><text>8</text></g>
<g transform="translate(1043 815)"><use href="#c"/><text>10</text></g>
<g transform="translate(500 915)"><use href="#c"/><text>8</text></g>
<g transform="translate(585 934)"><use href="#c"/><text>6</text></g>
<g transform="translate(708 903)"><use href="#c"/><text>7</text></g>
<g transform="translate(414 953)"><use href="#c"/><text>6</text></g>
</svg>
<rect x="25" y="38" width="722" height="54" fill="#fff" stroke="#777" stroke-width="2"/>
<text class="lb" x="32" y="79" textLength="707" lengthAdjust="spacingAndGlyphs">24 órás legerősebb széllökés (m/s)</text>
<rect x="1002" y="38" width="505" height="54" fill="#fff" stroke="#777" stroke-width="2"/>
<text class="lb" x="1009" y="79" textLength="490" lengthAdjust="spacingAndGlyphs">2026. február 13. 06 UTC</text>
<rect x="1040" y="933" width="467" height="87" fill="#fff" stroke="#aaa" stroke-width="2"/>
<rect x="1092" y="940" width="396" height="33" fill="url(#gW)"/>
<text x="1056" y="985" class="lg">m/s</text>
<g class="lgt"><text x="1149" y="1008">7</text><text x="1190" y="1008">12</text><text x="1230" y="1008">17</text><text x="1292" y="1008">25</text><text x="1355" y="1008">33</text></g>
<rect x="15" y="25" width="1507" height="1005" fill="none" stroke="#000" stroke-width="16"/>
</svg>

<!-- TABLE 3 -->
<div class="vl" style="left:233px;top:1059px;height:188px"></div>
<div class="hl" style="left:115px;top:1089px;width:300px"></div>
<div class="hd" style="left:115px;top:1152px;width:300px"></div>
<div class="c h" style="left:323px;top:1064px">MAX</div>
<div class="c l" style="left:173px;top:1099px">02. 12. 06 UTC-től</div>
<div class="c v gr" style="left:323px;top:1097px">10,8 mm</div>
<div class="c l" style="left:173px;top:1129px">02. 13. 06 UTC-ig</div>
<div class="c l" style="left:323px;top:1129px">Szentlőrinc</div>
<div class="c l" style="left:173px;top:1161px">REKORD</div>
<div class="c v gr" style="left:323px;top:1159px">47,2 mm</div>
<div class="c l" style="left:173px;top:1192px">02. 12.</div>
<div class="c l" style="left:323px;top:1192px">Kazincbarcika</div>
<div class="c l" style="left:323px;top:1223px">1991</div>

<!-- TABLE 4 -->
<div class="vl" style="left:767px;top:1059px;height:188px"></div>
<div class="hl" style="left:650px;top:1089px;width:285px"></div>
<div class="hd" style="left:650px;top:1152px;width:285px"></div>
<div class="c h" style="left:851px;top:1064px">MAX</div>
<div class="c l" style="left:707px;top:1099px">02. 12. 06 UTC-től</div>
<div class="c v or" style="left:851px;top:1097px">16,5 m/s</div>
<div class="c l" style="left:707px;top:1129px">02. 13. 06 UTC-ig</div>
<div class="c l" style="left:851px;top:1129px">Budapest János-hegy</div>
<div class="c l" style="left:707px;top:1161px">REKORD</div>
<div class="c v or" style="left:851px;top:1159px">34,0 m/s</div>
<div class="c l" style="left:707px;top:1192px">02. 12.</div>
<div class="c l" style="left:851px;top:1192px">Kab-hegy</div>
<div class="c l" style="left:851px;top:1223px">2014</div>

<!-- MAP 5 -->
<svg class="map" style="left:100px;top:1258px" width="503" height="336" viewBox="15 25 1507 1005" preserveAspectRatio="none">
<rect x="15" y="25" width="1507" height="1005" fill="#c6be89"/>
<use href="#terr"/>
<rect x="15" y="25" width="1507" height="1005" filter="url(#tex)" opacity=".6"/>
<use href="#hush"/>
<use href="#hu" fill="#ffffff"/>
<g clip-path="url(#huc)" filter="url(#bl)" opacity=".35">
<ellipse cx="900" cy="220" rx="250" ry="90" fill="#e4e4e4"/>
<ellipse cx="520" cy="520" rx="160" ry="70" fill="#ececec"/>
<ellipse cx="450" cy="860" rx="120" ry="60" fill="#ececec"/>
</g>
<use href="#riv" opacity=".6"/>
<use href="#hu" fill="none" stroke="#333" stroke-width="3"/>
<use href="#lakes"/>
<g class="s">
<g transform="translate(772 238)"><use href="#c"/><text>0</text></g>
<g transform="translate(962 203)"><use href="#c"/><text>0</text></g>
<g transform="translate(1023 263)"><use href="#c"/><text>0</text></g>
<g transform="translate(1157 283)"><use href="#c"/><text>0</text></g>
<g transform="translate(1325 200)"><use href="#c"/><text>0</text></g>
<g transform="translate(716 317)"><use href="#c"/><text>0</text></g>
<g transform="translate(875 335)"><use href="#c"/><text>F</text></g>
<g transform="translate(954 323)"><use href="#c"/><text>0</text></g>
<g transform="translate(1305 348)"><use href="#c"/><text>0</text></g>
<g transform="translate(1220 388)"><use href="#c"/><text>0</text></g>
<g transform="translate(155 384)"><use href="#c"/><text>0</text></g>
<g transform="translate(543 400)"><use href="#c"/><text>0</text></g>
<g transform="translate(607 403)"><use href="#c"/><text>0</text></g>
<g transform="translate(651 436)"><use href="#c"/><text>0</text></g>
<g transform="translate(728 405)"><use href="#c"/><text>0</text></g>
<g transform="translate(210 445)"><use href="#c"/><text>0</text></g>
<g transform="translate(240 474)"><use href="#c"/><text>0</text></g>
<g transform="translate(140 475)"><use href="#c"/><text>0</text></g>
<g transform="translate(317 466)"><use href="#c"/><text>0</text></g>
<g transform="translate(641 484)"><use href="#c"/><text>0</text></g>
<g transform="translate(700 472)"><use href="#c"/><text>0</text></g>
<g transform="translate(753 497)"><use href="#c"/><text>0</text></g>
<g transform="translate(804 470)"><use href="#c"/><text>0</text></g>
<g transform="translate(668 530)"><use href="#c"/><text>0</text></g>
<g transform="translate(162 535)"><use href="#c"/><text>0</text></g>
<g transform="translate(398 525)"><use href="#c"/><text>0</text></g>
<g transform="translate(536 546)"><use href="#c"/><text>0</text></g>
<g transform="translate(1016 527)"><use href="#c"/><text>0</text></g>
<g transform="translate(1217 550)"><use href="#c"/><text>0</text></g>
<g transform="translate(367 577)"><use href="#c"/><text>0</text></g>
<g transform="translate(433 573)"><use href="#c"/><text>0</text></g>
<g transform="translate(976 582)"><use href="#c"/><text>0</text></g>
<g transform="translate(100 640)"><use href="#c"/><text>0</text></g>
<g transform="translate(145 645)"><use href="#c"/><text>0</text></g>
<g transform="translate(485 633)"><use href="#c"/><text>0</text></g>
<g transform="translate(578 681)"><use href="#c"/><text>0</text></g>
<g transform="translate(1011 660)"><use href="#c"/><text>0</text></g>
<g transform="translate(153 724)"><use href="#c"/><text>0</text></g>
<g transform="translate(487 702)"><use href="#c"/><text>0</text></g>
<g transform="translate(269 743)"><use href="#c"/><text>0</text></g>
<g transform="translate(368 735)"><use href="#c"/><text>0</text></g>
<g transform="translate(626 741)"><use href="#c"/><text>0</text></g>
<g transform="translate(222 769)"><use href="#c"/><text>0</text></g>
<g transform="translate(526 756)"><use href="#c"/><text>0</text></g>
<g transform="translate(320 785)"><use href="#c"/><text>0</text></g>
<g transform="translate(447 783)"><use href="#c"/><text>0</text></g>
<g transform="translate(594 937)"><use href="#c"/><text>0</text></g>
</g>
<rect x="25" y="38" width="401" height="54" fill="#fff" stroke="#777" stroke-width="2"/>
<text class="lb" x="32" y="79" textLength="386" lengthAdjust="spacingAndGlyphs">Hóvastagság (cm)</text>
<rect x="1002" y="38" width="505" height="54" fill="#fff" stroke="#777" stroke-width="2"/>
<text class="lb" x="1009" y="79" textLength="490" lengthAdjust="spacingAndGlyphs">2026. február 13. 06 UTC</text>
<rect x="815" y="920" width="692" height="100" fill="#fff" stroke="#aaa" stroke-width="2"/>
<rect x="880" y="930" width="607" height="38" fill="url(#gS)"/>
<text x="830" y="978" class="lg">cm</text>
<g class="lgt"><text x="880" y="1002">1</text><text x="927" y="1002">5</text><text x="980" y="1002">10</text><text x="1035" y="1002">20</text><text x="1090" y="1002">30</text><text x="1145" y="1002">40</text><text x="1200" y="1002">50</text><text x="1255" y="1002">75</text><text x="1310" y="1002">100</text><text x="1365" y="1002">150</text><text x="1420" y="1002">200</text><text x="1473" y="1002">300</text></g>
<rect x="15" y="25" width="1507" height="1005" fill="none" stroke="#000" stroke-width="16"/>
</svg>

<!-- MAP 6 -->
<svg class="map" style="left:626px;top:1258px" width="503" height="336" viewBox="15 25 1507 1005" preserveAspectRatio="none">
<rect x="15" y="25" width="1507" height="1005" fill="#c6be89"/>
<use href="#terr"/>
<rect x="15" y="25" width="1507" height="1005" filter="url(#tex)" opacity=".6"/>
<use href="#hush"/>
<use href="#hu" fill="#2f8585"/>
<g clip-path="url(#huc)">
<rect x="15" y="25" width="1507" height="1005" filter="url(#tex)" opacity=".22"/>
</g>
<use href="#riv" opacity=".35" stroke="#2a6a8a"/>
<use href="#hu" fill="none" stroke="#1a2a2a" stroke-width="3"/>
<use href="#lakes"/>
<svg x="15" y="25" width="1507" height="1005" viewBox="20 25 1510 1005" preserveAspectRatio="none" class="p">
<g fill="none" stroke="#173f3f" stroke-width="2.5" opacity=".85">
<path d="M130,480 C230,472 300,445 350,400 C380,372 470,365 540,385 C548,410 540,430 520,440"/>
<path d="M1280,420 C1250,395 1190,390 1160,410 C1100,440 1060,470 1020,500 C980,560 930,610 860,630 C800,650 790,700 740,700 C680,700 640,680 600,640 C570,605 540,595 500,605 C440,615 390,580 370,540 C360,500 400,470 460,450 C520,430 560,440 600,420"/>
<path d="M630,430 C650,420 700,440 720,470 C730,490 700,495 680,485"/>
<path d="M930,230 C960,200 1000,210 1040,240 C1050,270 1010,285 980,280"/>
</g>
<circle cx="975" cy="262" r="13" fill="none" stroke="#1ad21a" stroke-width="5"/><circle cx="975" cy="262" r="4" fill="#0a6a0a"/>
<circle cx="1218" cy="298" r="13" fill="none" stroke="#1ad21a" stroke-width="5"/><circle cx="1218" cy="298" r="4" fill="#0a6a0a"/>
<use href="#ar2" x="118" y="372"/>
<use href="#ar2" x="360" y="407"/>
<use href="#ar" x="650" y="472"/>
<use href="#ar" x="1163" y="450"/>
<use href="#ar2" x="105" y="533"/>
<use href="#ar" x="873" y="572"/>
<use href="#ar" x="404" y="632"/>
<use href="#ar" x="773" y="635"/>
<use href="#ar" x="1073" y="705"/>
<use href="#ar2" x="574" y="742"/>
<use href="#ar2" x="170" y="770"/>
<use href="#ar2" x="843" y="842"/>
<use href="#ar2" x="440" y="922"/>
<text x="162" y="372">990</text>
<text x="404" y="408">990</text>
<text x="694" y="472">990</text>
<text x="1206" y="450">990</text>
<text x="152" y="535">990</text>
<text x="916" y="570">990</text>
<text x="447" y="632">990</text>
<text x="816" y="635">990</text>
<text x="1116" y="706">990</text>
<text x="617" y="742">991</text>
<text x="213" y="770">990</text>
<text x="887" y="842">991</text>
<text x="484" y="922">991</text>
<text x="1017" y="262">989</text>
<text x="1262" y="298">990</text>
</svg>
<rect x="25" y="38" width="620" height="54" fill="#fff" stroke="#777" stroke-width="2"/>
<text class="lb" x="32" y="79" textLength="605" lengthAdjust="spacingAndGlyphs">Tengerszinti légnyomás (hPa)</text>
<rect x="1002" y="38" width="505" height="54" fill="#fff" stroke="#777" stroke-width="2"/>
<text class="lb" x="1009" y="79" textLength="490" lengthAdjust="spacingAndGlyphs">2026. február 13. 00 UTC</text>
<rect x="788" y="931" width="719" height="89" fill="#fff" stroke="#aaa" stroke-width="2"/>
<rect x="843" y="943" width="647" height="32" fill="url(#gPr)"/>
<text x="805" y="985" class="lg">hPa</text>
<g class="lgt"><text x="910" y="1008">980</text><text x="987" y="1008">990</text><text x="1065" y="1008">1000</text><text x="1143" y="1008">1010</text><text x="1220" y="1008">1020</text><text x="1298" y="1008">1030</text><text x="1375" y="1008">1040</text><text x="1452" y="1008">1050</text></g>
<rect x="15" y="25" width="1507" height="1005" fill="none" stroke="#000" stroke-width="16"/>
</svg>

<!-- FOOTER -->
<svg style="position:absolute;left:96px;top:1646px" width="60" height="64">
<defs><linearGradient id="lgo" x1="0" y1="0" x2="0" y2="1"><stop offset="0" stop-color="#6cc24a"/><stop offset=".5" stop-color="#1aa08e"/><stop offset="1" stop-color="#1c4fa0"/></linearGradient></defs>
<g fill="none" stroke="url(#lgo)" stroke-width="2.2" transform="rotate(-40 30 32)">
<circle cx="30" cy="32" r="26" stroke-dasharray="120 43.4"/>
<circle cx="30" cy="32" r="22" stroke-dasharray="100 38"/>
<circle cx="30" cy="32" r="18" stroke-dasharray="82 31"/>
<circle cx="30" cy="32" r="14" stroke-dasharray="62 26"/>
<circle cx="30" cy="32" r="10" stroke-dasharray="44 19"/>
</g>
</svg>
<svg style="position:absolute;left:0;top:1630px" width="1241" height="100">
<text x="153" y="54" font-size="38" fill="#2e3377" textLength="196" lengthAdjust="spacingAndGlyphs">HungaroMet</text>
<text x="153" y="69" font-size="8.5" fill="#2e3377" textLength="198" lengthAdjust="spacingAndGlyphs">Magyar Meteorológiai Szolgáltató Nonprofit Zrt.</text>
<text x="404" y="41.5" font-size="18.5" fill="#111" textLength="726" lengthAdjust="spacingAndGlyphs">Kiadásért felel: a HungaroMet Nonprofit Zrt. vezérigazgatója • Honlap: www.met.hu •</text>
<text x="665" y="66.5" font-size="18.5" fill="#111" textLength="204" lengthAdjust="spacingAndGlyphs">Email: metinfo@met.hu</text>
</svg>

</div></body></html>
